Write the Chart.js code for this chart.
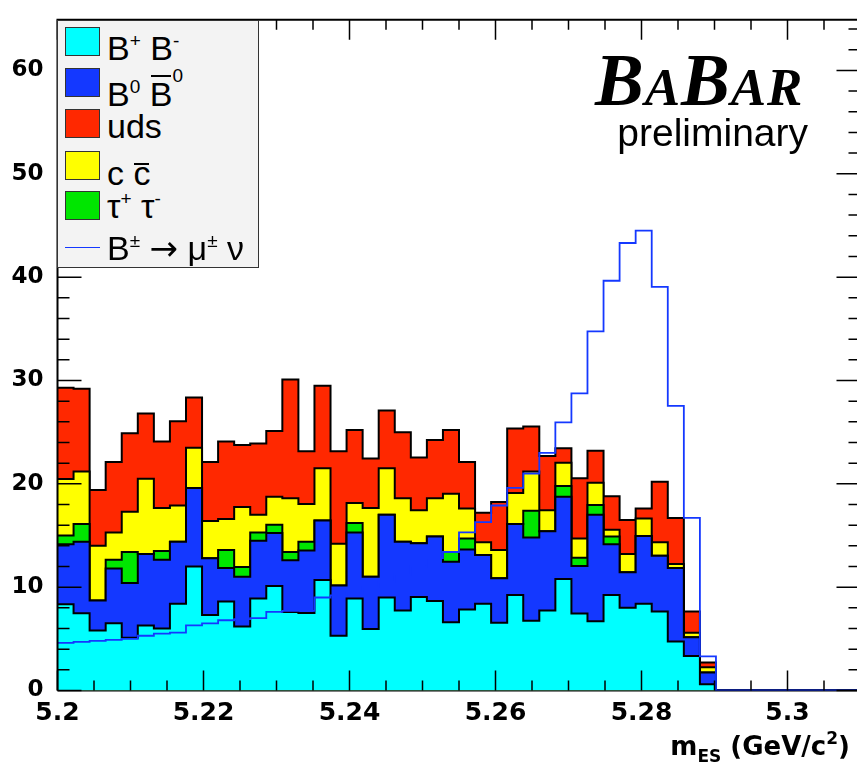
<!DOCTYPE html>
<html>
<head>
<meta charset="utf-8">
<title>BaBar B -> mu nu, mES</title>
<script src="https://cdn.jsdelivr.net/npm/chart.js@4.4.1/dist/chart.umd.min.js"></script>
<style>
  html, body { margin: 0; padding: 0; background: #fff; overflow: hidden; }
  #wrap { position: relative; width: 857px; height: 765px; overflow: hidden; }
  #plot { position: absolute; left: 0; top: 0; }
  .txt { position: absolute; color: #000; white-space: nowrap; z-index: 2; }
  #legend { position: absolute; left: 57px; top: 20px; width: 200px; height: 246px;
            background: #f3f3f3; border: 1.5px solid #333; z-index: 2; }
  .sw { position: absolute; left: 7px; width: 35px; height: 29px; border: 1px solid #333; box-sizing: border-box; }
  .ln { position: absolute; left: 7px; width: 35px; height: 0; border-top: 1.5px solid #1438ff; }
  .lab { position: absolute; left: 49px; font: 34px/34px "Liberation Sans", Arial, sans-serif; white-space: nowrap; }
  .sp { position: relative; font-size: 19px; top: -13px; }
  .arr { font-family: "DejaVu Sans", sans-serif; font-size: 34px; }
  .bar { position: relative; display: inline-block; }
  .bar i { position: absolute; left: 1px; right: 1px; height: 2px; background: #000; }
  #logo { left: 595px; top: 44px; font: italic bold 73px/73px "Liberation Serif", "Times New Roman", serif; letter-spacing: 1px; }
  #logo span { font-size: 53px; }
  #prelim { right: 49px; top: 113px; font: 39px/39px "Liberation Sans", Arial, sans-serif; }
  #xtitle { right: 7px; top: 733px; font: bold 26px/26px "DejaVu Sans", sans-serif; }
  #xtitle .sub { position: relative; font-size: 17px; top: 7px; }
  #xtitle .sup { position: relative; font-size: 17px; top: -11px; }
</style>
</head>
<body>
<div id="wrap">
  <canvas id="plot" width="866" height="765"></canvas>
  <div id="legend"></div>
  <div class="txt" id="logo">B<span>A</span>B<span>AR</span></div>
  <div class="txt" id="prelim">preliminary</div>
  <div class="txt" id="xtitle">m<span class="sub">ES</span> (GeV/c<span class="sup">2</span>)</div>
</div>
<script>
// binning of the m_ES histograms
const xMin = 5.2;
const xMax = 5.31;
const nBins = 50;
const binWidth = (xMax - xMin) / nBins;
const yMax = 64.9;

const xTicks = [5.2, 5.22, 5.24, 5.26, 5.28, 5.3];
const xTickLabels = ['5.2', '5.22', '5.24', '5.26', '5.28', '5.3'];
const yTicks = [0, 10, 20, 30, 40, 50, 60];
const yTickLabels = ['0', '10', '20', '30', '40', '50', '60'];

// background components, entries per bin (stacked bottom to top)
const bChargedBkg = [8.34, 7.48, 5.8, 6.5, 5.1, 6.3, 6.0, 8.4, 12.0, 7.3,
                     8.6, 6.2, 8.9, 10.1, 7.6, 7.5, 10.7, 5.3, 8.9, 5.95,
                     9.0, 7.75, 9.05, 8.65, 6.6, 7.85, 8.4, 6.55, 9.25, 6.75,
                     7.75, 10.8, 7.45, 6.7, 9.25, 8.0, 8.4, 7.65, 4.75, 3.35,
                     0.6, 0, 0, 0, 0, 0, 0, 0, 0, 0];
const bNeutralBkg = [5.8, 6.92, 2.9, 5.3, 5.3, 6.9, 6.65, 6.0, 7.6, 5.5,
                     3.25, 4.8, 5.6, 5.15, 5.0, 6.05, 5.75, 4.85, 6.4, 5.05,
                     8.0, 6.65, 5.2, 6.25, 5.85, 5.8, 4.7, 4.3, 6.85, 8.05,
                     7.65, 7.95, 4.6, 10.3, 4.9, 3.45, 6.55, 5.4, 7.1, 1.8,
                     1.15, 0, 0, 0, 0, 0, 0, 0, 0, 0];
const tauTauBkg = [0.86, 1.7, 0, 0.85, 3.0, 0, 0.85, 0, 0, 0,
                   1.75, 0.95, 0.8, 0.8, 0.8, 0.85, 0, 0, 0.9, 0,
                   0, 0, 0, 0, 0.95, 1.05, 0, 0, 0, 2.6,
                   0, 1.05, 0.8, 0.95, 0.75, 0, 0, 0, 0, 0,
                   0, 0, 0, 0, 0, 0, 0, 0, 0, 0];
const ccbarBkg = [5.46, 5.1, 5.3, 2.65, 3.9, 7.3, 4.15, 3.5, 3.9, 3.6,
                  3.0, 5.8, 1.7, 2.7, 5.2, 3.65, 5.05, 4.05, 1.95, 6.65,
                  4.5, 4.2, 3.2, 3.7, 5.65, 2.9, 1.25, 2.75, 3.0, 3.8,
                  2.05, 2.25, 1.85, 2.15, 0.65, 1.75, 1.7, 1.3, 0.4, 0.45,
                  0.5, 0, 0, 0, 0, 0, 0, 0, 0, 0];
const udsBkg = [8.84, 8.0, 5.4, 6.8, 7.6, 6.3, 6.45, 8.15, 4.85, 5.7,
                7.5, 6.0, 6.9, 6.35, 11.5, 5.1, 8.0, 8.95, 7.05, 4.8,
                5.6, 6.4, 5.1, 5.65, 6.15, 4.5, 2.85, 4.65, 6.25, 4.35,
                5.25, 1.4, 5.85, 3.1, 3.25, 3.3, 0.95, 5.85, 4.45, 2.05,
                0.45, 0, 0, 0, 0, 0, 0, 0, 0, 0];
// signal MC B -> mu nu (not stacked)
const signalMC = [4.6, 4.7, 4.8, 4.9, 5.0, 5.3, 5.5, 5.6, 6.3, 6.5,
                  6.8, 6.9, 7.0, 7.6, 7.7, 7.7, 9.0, 9.2, 9.5, 10.0,
                  10.5, 11.2, 12.0, 12.8, 13.4, 15.3, 16.3, 17.9, 19.6, 21.0,
                  23.0, 25.95, 28.75, 34.75, 39.65, 43.3, 44.5, 39.05, 27.55, 16.7,
                  3.3, 0, 0, 0, 0, 0, 0, 0, 0, 0];

const stackSeries = [bChargedBkg, bNeutralBkg, tauTauBkg, ccbarBkg, udsBkg];
const stackColors = ['#00ffff', '#1438ff', '#00e600', '#ffff00', '#ff2800'];
const signalColor = '#1438ff';

// legend rows (ROOT legend order)
const legendRows = [
  { color: '#00ffff', html: 'B<span class="sp">+</span> B<span class="sp">-</span>' },
  { color: '#1438ff', html: 'B<span class="sp">0</span> <span class="bar"><i style="top:-2px"></i>B</span><span class="sp" style="top:-24px">0</span>' },
  { color: '#ff2800', html: 'uds' },
  { color: '#ffff00', html: 'c <span class="bar"><i style="top:7px"></i>c</span>' },
  { color: '#00e600', html: '&tau;<span class="sp">+</span> &tau;<span class="sp">-</span>' },
  { line: signalColor, html: 'B<span class="sp">&plusmn;</span> <span class="arr">&rarr;</span> &mu;<span class="sp">&plusmn;</span> &nu;' }
];
const legendBaselines = [60, 106, 138, 185, 218, 260];
const legendBoxTops = [27, 68, 109, 151, 191, 247];

function buildLegend() {
  const box = document.getElementById('legend');
  const top0 = 21.5;
  legendRows.forEach((row, i) => {
    if (row.line) {
      const l = document.createElement('div');
      l.className = 'ln';
      l.style.top = (legendBoxTops[i] - top0) + 'px';
      box.appendChild(l);
    } else {
      const s = document.createElement('div');
      s.className = 'sw';
      s.style.top = (legendBoxTops[i] - top0) + 'px';
      s.style.background = row.color;
      box.appendChild(s);
    }
    const t = document.createElement('div');
    t.className = 'lab';
    t.style.top = (legendBaselines[i] - 29 - top0) + 'px';
    t.innerHTML = row.html;
    box.appendChild(t);
  });
}

// step points at the low edge of each bin, closed at the upper edge
function toSteps(values) {
  const pts = values.map((v, i) => ({ x: xMin + i * binWidth, y: v }));
  pts.push({ x: xMax, y: values[values.length - 1] });
  return pts;
}

function buildDatasets() {
  const sets = [];
  let running = new Array(nBins).fill(0);
  // lower 'order' is painted later, so the running total (uds on top) goes underneath
  stackSeries.forEach((series, k) => {
    running = running.map((v, i) => v + series[i]);
    sets.push({
      data: toSteps(running),
      backgroundColor: stackColors[k],
      borderColor: '#000',
      borderWidth: 2,
      fill: 'origin',
      stepped: 'before',
      pointRadius: 0,
      order: k + 1
    });
  });
  sets.push({
    data: toSteps(signalMC),
    borderColor: signalColor,
    borderWidth: 1.8,
    fill: false,
    stepped: 'before',
    pointRadius: 0,
    order: 0
  });
  return sets;
}

// ROOT style frame with inward ticks on all four sides
const frameTicks = {
  id: 'frameTicks',
  beforeDatasetsDraw(chart) {
    const { ctx, chartArea: a } = chart;
    ctx.save();
    ctx.strokeStyle = '#000';
    ctx.lineWidth = 2;
    ctx.beginPath();
    ctx.moveTo(a.left, a.bottom);
    ctx.lineTo(a.right, a.bottom);
    ctx.stroke();
    ctx.restore();
  },
  afterDatasetsDraw(chart) {
    const { ctx, chartArea: a, scales } = chart;
    const x = scales.x, y = scales.y;
    ctx.save();
    ctx.strokeStyle = '#000';
    ctx.lineWidth = 2;
    ctx.beginPath();
    ctx.moveTo(a.left, a.bottom);
    ctx.lineTo(a.left, a.top);
    ctx.lineTo(a.right, a.top);
    ctx.lineTo(a.right, a.bottom);
    ctx.stroke();

    ctx.lineWidth = 1.5;
    ctx.beginPath();
    for (let k = 0; k * 2 <= yMax; k++) {
      const py = y.getPixelForValue(k * 2);
      const len = k % 5 === 0 ? 24 : 12;
      ctx.moveTo(a.left, py); ctx.lineTo(a.left + len, py);
      ctx.moveTo(a.right, py); ctx.lineTo(a.right - len, py);
    }
    for (let k = 0; xMin + k * 0.005 <= xMax + 1e-9; k++) {
      const px = x.getPixelForValue(xMin + k * 0.005);
      const len = k % 4 === 0 ? 20 : 10;
      ctx.moveTo(px, a.bottom); ctx.lineTo(px, a.bottom - len);
      ctx.moveTo(px, a.top); ctx.lineTo(px, a.top + len);
    }
    ctx.stroke();
    ctx.restore();
  }
};

function initChart() {
  buildLegend();
  const ctx = document.getElementById('plot').getContext('2d');
  new Chart(ctx, {
    type: 'line',
    data: { datasets: buildDatasets() },
    plugins: [frameTicks],
    options: {
      responsive: false,
      animation: false,
      events: [],
      layout: { padding: { top: 13, right: 5.5, bottom: 0, left: 0 } },
      scales: {
        x: {
          type: 'linear',
          min: xMin,
          max: xMax,
          grid: { display: false },
          border: { display: false },
          afterBuildTicks: scale => { scale.ticks = xTicks.map(v => ({ value: v })); },
          afterFit: scale => { scale.height = 74.5; },
          ticks: {
            autoSkip: false,
            maxRotation: 0,
            minRotation: 0,
            padding: 0,
            color: '#000',
            font: { family: 'DejaVu Sans', weight: 'bold', size: 25 },
            callback: (value, index) => xTickLabels[index]
          }
        },
        y: {
          type: 'linear',
          min: 0,
          max: yMax,
          grid: { display: false },
          border: { display: false },
          afterBuildTicks: scale => { scale.ticks = yTicks.map(v => ({ value: v })); },
          afterFit: scale => { scale.width = 57.5; },
          ticks: {
            padding: 6,
            color: '#000',
            font: { family: 'DejaVu Sans', weight: 'bold', size: 23 },
            callback: (value, index) => yTickLabels[index]
          }
        }
      },
      plugins: {
        legend: { display: false },
        tooltip: { enabled: false }
      }
    }
  });
}

initChart();
</script>
</body>
</html>
